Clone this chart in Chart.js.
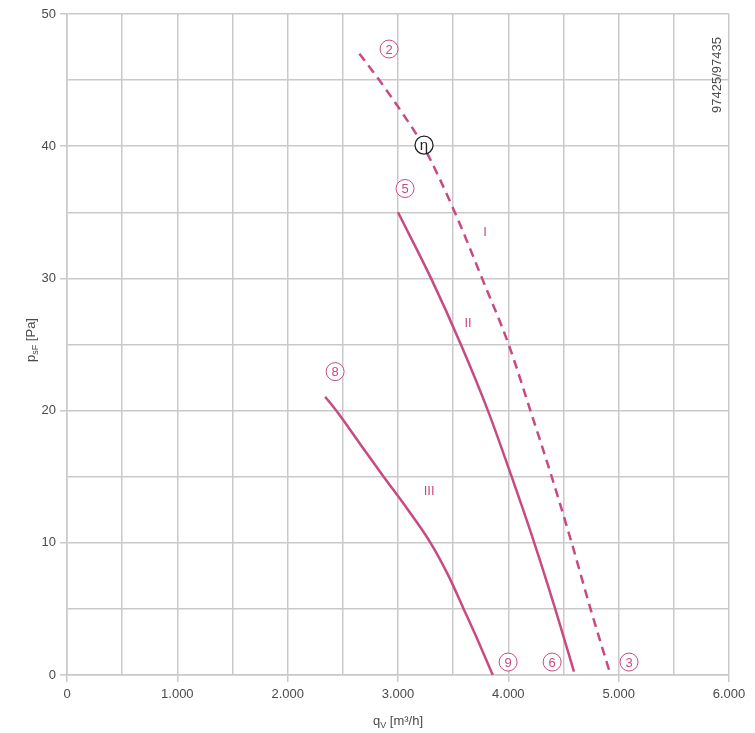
<!DOCTYPE html>
<html>
<head>
<meta charset="utf-8">
<script src="https://cdn.jsdelivr.net/npm/chart.js@4/dist/chart.umd.min.js"></script>
<style>
html,body{margin:0;padding:0;background:#fff;overflow:hidden;}
#wrap{width:755px;height:733px;position:relative;}
canvas{display:block;}
</style>
</head>
<body>
<div id="wrap"><canvas id="c" width="755" height="733" style="width:755px;height:733px"></canvas></div>
<script>
// Curve I (dashed)
const curveI_q = [2650, 2830, 3040, 3230, 3515, 3762, 4003, 4200, 4393, 4574, 4745, 4927];
const curveI_p = [47.0, 45, 42.5, 40, 35, 30, 25, 20, 15, 10, 5, 0];
// Curve II
const curveII_q = [3000, 3300, 3570, 3815, 4030, 4235, 4425, 4595];
const curveII_p = [35.0, 30, 25, 20, 15, 10, 5, 0.25];
// Curve III
const curveIII_q = [2340, 2440, 2655, 2870, 3090, 3295, 3458, 3595, 3730, 3859];
const curveIII_p = [21.05, 20, 17.5, 15, 12.5, 10, 7.5, 5, 2.5, 0];

// Tick labels
const xTickValues = [0, 1000, 2000, 3000, 4000, 5000, 6000];
const xTickLabels = ['0', '1.000', '2.000', '3.000', '4.000', '5.000', '6.000'];
const yTickValues = [0, 10, 20, 30, 40, 50];
const yTickLabels = ['0', '10', '20', '30', '40', '50'];

// Circled markers
const markerText = ['2', '5', '8', '9', '6', '3'];
const markerQ = [2919, 3064, 2430, 3998, 4397, 5094];
const markerP = [47.35, 36.8, 22.95, 0.98, 0.98, 0.98];
// Efficiency marker
const etaText = ['η'];
const etaQ = [3236];
const etaP = [40.08];
// Curve names
const nameText = ['I', 'II', 'III'];
const nameQ = [3789, 3635, 3282];
const nameP = [33.5, 26.6, 13.9];

const idText = '97425/97435';

const PINK = '#c84a82';
const GRID = '#c9c9c9';
const TXT = '#4a4a4a';
const FONT = '"Liberation Sans", Arial, Helvetica, sans-serif';

function pts(q, p){ return q.map((v,i)=>({x:v, y:p[i]})); }

const overlay = {
  id: 'overlay',
  afterDatasetsDraw(chart){
    const {ctx, scales:{x, y}, chartArea} = chart;
    ctx.save();
    ctx.lineWidth = 1;
    ctx.textAlign = 'center';
    ctx.textBaseline = 'middle';
    markerText.forEach((t,i)=>{
      const px = x.getPixelForValue(markerQ[i]);
      const py = y.getPixelForValue(markerP[i]);
      ctx.fillStyle = '#fff';
      ctx.beginPath(); ctx.arc(px, py, 9, 0, Math.PI*2); ctx.fill();
      ctx.strokeStyle = PINK;
      ctx.lineWidth = 1;
      ctx.stroke();
      ctx.fillStyle = PINK;
      ctx.font = '13px ' + FONT;
      ctx.fillText(t, px, py+1);
    });
    etaText.forEach((t,i)=>{
      const px = x.getPixelForValue(etaQ[i]);
      const py = y.getPixelForValue(etaP[i]);
      ctx.fillStyle = '#fff';
      ctx.beginPath(); ctx.arc(px, py, 9, 0, Math.PI*2); ctx.fill();
      ctx.strokeStyle = '#222';
      ctx.lineWidth = 1.3;
      ctx.stroke();
      ctx.fillStyle = '#222';
      ctx.font = '15px ' + FONT;
      ctx.fillText(t, px, py+1);
    });
    nameText.forEach((t,i)=>{
      const px = x.getPixelForValue(nameQ[i]);
      const py = y.getPixelForValue(nameP[i]);
      ctx.fillStyle = PINK;
      ctx.font = '13px ' + FONT;
      ctx.fillText(t, px, py);
    });
    ctx.save();
    ctx.translate(717, 75);
    ctx.rotate(-Math.PI/2);
    ctx.fillStyle = TXT;
    ctx.font = '13px ' + FONT;
    ctx.textAlign = 'center';
    ctx.fillText(idText, 0, 0);
    ctx.restore();
    ctx.fillStyle = TXT;
    ctx.textBaseline = 'alphabetic';
    ctx.textAlign = 'left';
    const cx = (chartArea.left + chartArea.right)/2;
    const base = 725;
    ctx.font = '13px ' + FONT;
    const w1 = ctx.measureText('q').width;
    ctx.font = '9px ' + FONT;
    const w2 = ctx.measureText('V').width;
    ctx.font = '13px ' + FONT;
    const rest = ' [m³/h]';
    const w3 = ctx.measureText(rest).width;
    let sx = cx - (w1+w2+w3)/2;
    ctx.fillText('q', sx, base);
    ctx.font = '9px ' + FONT;
    ctx.fillText('V', sx+w1, base+3);
    ctx.font = '13px ' + FONT;
    ctx.fillText(rest, sx+w1+w2, base);
    ctx.save();
    ctx.translate(35, 340);
    ctx.rotate(-Math.PI/2);
    ctx.font = '13px ' + FONT;
    const a1 = ctx.measureText('p').width;
    ctx.font = '9px ' + FONT;
    const a2 = ctx.measureText('sF').width;
    ctx.font = '13px ' + FONT;
    const a3 = ctx.measureText(' [Pa]').width;
    let s = -(a1+a2+a3)/2;
    ctx.fillText('p', s, 0);
    ctx.font = '9px ' + FONT;
    ctx.fillText('sF', s+a1, 3);
    ctx.font = '13px ' + FONT;
    ctx.fillText(' [Pa]', s+a1+a2, 0);
    ctx.restore();
    ctx.restore();
  }
};

new Chart(document.getElementById('c'), {
  type: 'scatter',
  data: {
    datasets: [
      { label: 'I', data: pts(curveI_q, curveI_p), showLine: true, borderColor: PINK, borderWidth: 2.5, borderDash: [9, 6], pointRadius: 0, cubicInterpolationMode: 'monotone' },
      { label: 'II', data: pts(curveII_q, curveII_p), showLine: true, borderColor: PINK, borderWidth: 2.5, pointRadius: 0, cubicInterpolationMode: 'monotone' },
      { label: 'III', data: pts(curveIII_q, curveIII_p), showLine: true, borderColor: PINK, borderWidth: 2.5, pointRadius: 0, cubicInterpolationMode: 'monotone' }
    ]
  },
  options: {
    responsive: false,
    maintainAspectRatio: false,
    animation: false,
    devicePixelRatio: 1,
    layout: { padding: { top: 14, right: 26, left: 0, bottom: 0 } },
    plugins: { legend: { display: false }, tooltip: { enabled: false }, title: { display: false } },
    scales: {
      x: {
        type: 'linear', min: 0, max: 6000,
        afterFit(s){ s.height = 58; },
        afterBuildTicks(s){ s.ticks = []; for (let v = 0; v <= 6000; v += 500) s.ticks.push({value: v}); },
        border: { display: true, color: GRID, width: 1.5 },
        grid: { color: GRID, lineWidth: 1.5, drawTicks: true, tickLength: 7,
          tickColor: c => (xTickValues.includes(c.tick && c.tick.value) ? GRID : 'rgba(0,0,0,0)') },
        ticks: {
          color: TXT, font: { size: 13, family: FONT }, padding: 5, maxRotation: 0, autoSkip: false,
          callback: v => { const i = xTickValues.indexOf(v); return i >= 0 ? xTickLabels[i] : ''; }
        }
      },
      y: {
        type: 'linear', min: 0, max: 50,
        afterFit(s){ s.width = 67; },
        afterBuildTicks(s){ s.ticks = []; for (let v = 0; v <= 50; v += 5) s.ticks.push({value: v}); },
        border: { display: true, color: GRID, width: 1.5 },
        grid: { color: GRID, lineWidth: 1.5, drawTicks: true, tickLength: 7,
          tickColor: c => (yTickValues.includes(c.tick && c.tick.value) ? GRID : 'rgba(0,0,0,0)') },
        ticks: {
          color: TXT, font: { size: 13, family: FONT }, padding: 4, autoSkip: false,
          callback: v => { const i = yTickValues.indexOf(v); return i >= 0 ? yTickLabels[i] : ''; }
        }
      }
    }
  },
  plugins: [overlay]
});
</script>
</body>
</html>
